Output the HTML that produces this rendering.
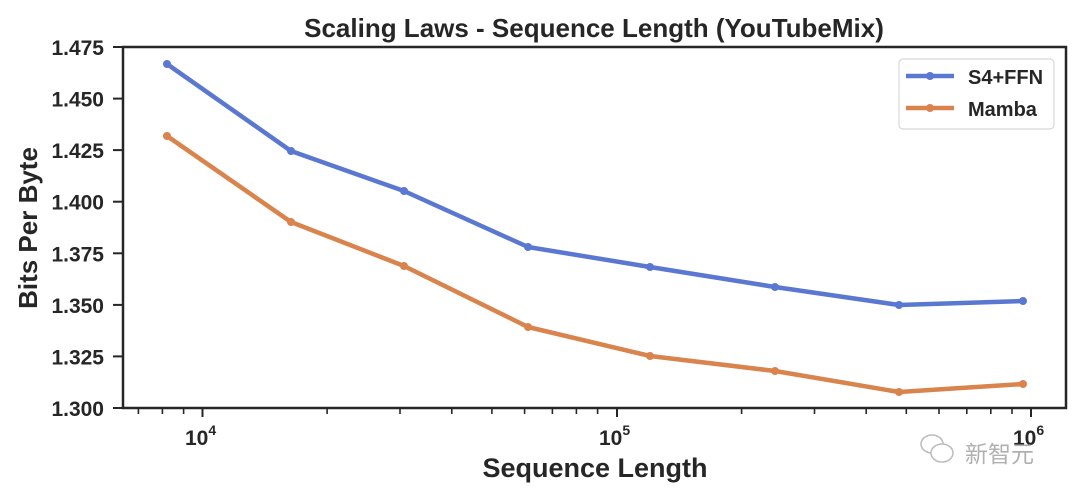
<!DOCTYPE html>
<html><head><meta charset="utf-8"><style>
body{margin:0;background:#fff;}
svg{display:block;font-family:"Liberation Sans","Noto Sans CJK SC",sans-serif;}
</style></head><body>
<svg width="1080" height="498" viewBox="0 0 1080 498" xmlns="http://www.w3.org/2000/svg">
<rect width="1080" height="498" fill="#fff"/>
<text x="594" y="37" text-anchor="middle" font-size="26" font-weight="bold" fill="#262626">Scaling Laws - Sequence Length (YouTubeMix)</text>
<g stroke="#262626" stroke-width="2.5" fill="none">
<rect x="123" y="47" width="943" height="361"/>
</g>
<g stroke="#262626" stroke-width="2">
<line x1="113" y1="47" x2="123" y2="47"/><line x1="113" y1="98.6" x2="123" y2="98.6"/>
<line x1="113" y1="150.1" x2="123" y2="150.1"/><line x1="113" y1="201.7" x2="123" y2="201.7"/>
<line x1="113" y1="253.3" x2="123" y2="253.3"/><line x1="113" y1="304.9" x2="123" y2="304.9"/>
<line x1="113" y1="356.4" x2="123" y2="356.4"/><line x1="113" y1="408" x2="123" y2="408"/>
<line x1="202.5" y1="408" x2="202.5" y2="417"/><line x1="617" y1="408" x2="617" y2="417"/><line x1="1031" y1="408" x2="1031" y2="417"/>
</g>
<g stroke="#262626" stroke-width="1.6">
<line x1="138.4" y1="408" x2="138.4" y2="414"/><line x1="162.4" y1="408" x2="162.4" y2="414"/><line x1="183.6" y1="408" x2="183.6" y2="414"/>
<line x1="327.1" y1="408" x2="327.1" y2="414"/><line x1="400" y1="408" x2="400" y2="414"/><line x1="451.8" y1="408" x2="451.8" y2="414"/>
<line x1="491.9" y1="408" x2="491.9" y2="414"/><line x1="524.6" y1="408" x2="524.6" y2="414"/><line x1="552.4" y1="408" x2="552.4" y2="414"/>
<line x1="576.4" y1="408" x2="576.4" y2="414"/><line x1="597.6" y1="408" x2="597.6" y2="414"/>
<line x1="741.6" y1="408" x2="741.6" y2="414"/><line x1="814.5" y1="408" x2="814.5" y2="414"/><line x1="866.2" y1="408" x2="866.2" y2="414"/>
<line x1="906.3" y1="408" x2="906.3" y2="414"/><line x1="939" y1="408" x2="939" y2="414"/><line x1="966.8" y1="408" x2="966.8" y2="414"/>
<line x1="990.8" y1="408" x2="990.8" y2="414"/><line x1="1012" y1="408" x2="1012" y2="414"/>
</g>
<g font-size="21" font-weight="bold" fill="#262626" text-anchor="end">
<text x="104" y="55">1.475</text><text x="104" y="106.6">1.450</text><text x="104" y="158.1">1.425</text>
<text x="104" y="209.7">1.400</text><text x="104" y="261.3">1.375</text><text x="104" y="312.9">1.350</text>
<text x="104" y="364.4">1.325</text><text x="104" y="416">1.300</text>
</g>
<g font-size="21" font-weight="bold" fill="#262626">
<text x="185" y="445">10<tspan font-size="14" dy="-10">4</tspan></text>
<text x="599" y="445">10<tspan font-size="14" dy="-10">5</tspan></text>
<text x="1013" y="445">10<tspan font-size="14" dy="-10">6</tspan></text>
</g>
<text x="595" y="477" text-anchor="middle" font-size="27" font-weight="bold" fill="#262626">Sequence Length</text>
<text transform="translate(37,228) rotate(-90)" text-anchor="middle" font-size="26" font-weight="bold" fill="#262626">Bits Per Byte</text>
<polyline fill="none" stroke="#5a78d2" stroke-width="4.5" stroke-linejoin="round" points="167,64 291,151 404,191 528,247 650,267 775,287 899,305 1023,301"/>
<polyline fill="none" stroke="#d9834d" stroke-width="4.5" stroke-linejoin="round" points="167,136 291,222 404,266 528,327 650,356 775,371 899,392 1023,384"/>
<g fill="#5a78d2"><circle cx="167" cy="64" r="4"/><circle cx="291" cy="151" r="4"/><circle cx="404" cy="191" r="4"/><circle cx="528" cy="247" r="4"/><circle cx="650" cy="267" r="4"/><circle cx="775" cy="287" r="4"/><circle cx="899" cy="305" r="4"/><circle cx="1023" cy="301" r="4"/></g>
<g fill="#d9834d"><circle cx="167" cy="136" r="4"/><circle cx="291" cy="222" r="4"/><circle cx="404" cy="266" r="4"/><circle cx="528" cy="327" r="4"/><circle cx="650" cy="356" r="4"/><circle cx="775" cy="371" r="4"/><circle cx="899" cy="392" r="4"/><circle cx="1023" cy="384" r="4"/></g>
<rect x="899" y="59" width="155" height="70" rx="4" fill="#fff" stroke="#d8d8d8" stroke-width="1.2"/>
<line x1="906" y1="76" x2="954" y2="76" stroke="#5a78d2" stroke-width="4.5"/><circle cx="930" cy="76" r="4" fill="#5a78d2"/>
<line x1="906" y1="108" x2="954" y2="108" stroke="#d9834d" stroke-width="4.5"/><circle cx="930" cy="108" r="4" fill="#d9834d"/>
<text x="968" y="84" font-size="20" font-weight="bold" fill="#262626">S4+FFN</text>
<text x="968" y="116" font-size="20" font-weight="bold" fill="#262626">Mamba</text>
<g stroke="#bbb" stroke-width="1.5" fill="#fff">
<ellipse cx="932" cy="444" rx="11" ry="9"/><ellipse cx="942" cy="453" rx="11" ry="9"/>
</g>
<text x="965" y="462" font-size="23" fill="#b0b0b0">新智元</text>
</svg>
</body></html>
